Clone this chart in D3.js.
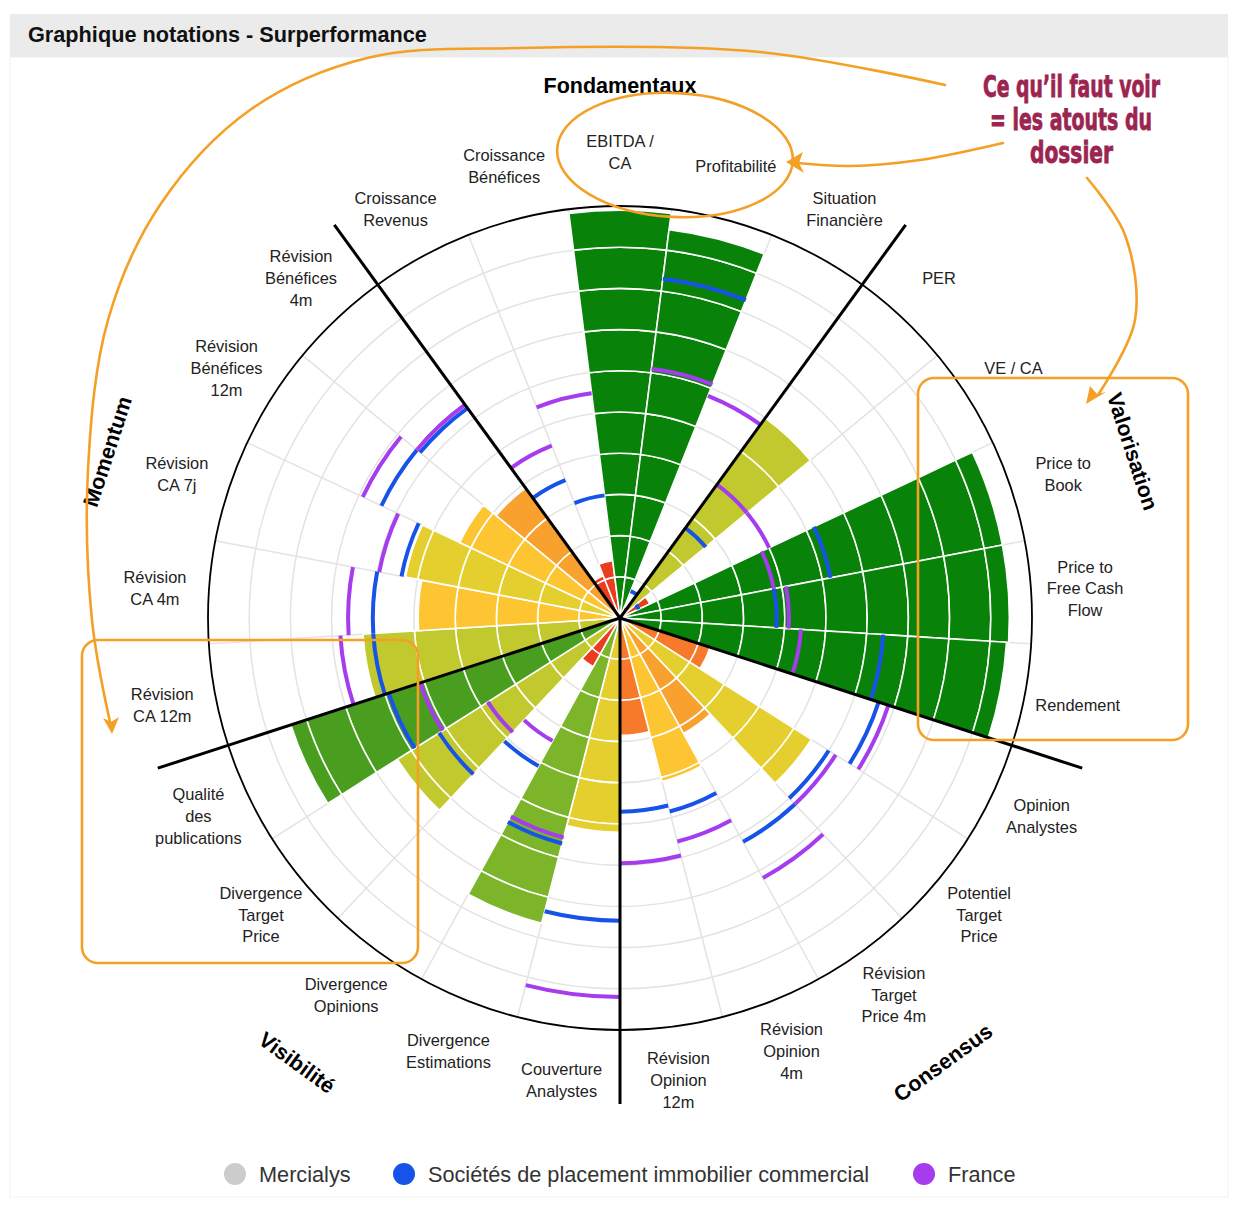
<!DOCTYPE html>
<html>
<head>
<meta charset="utf-8">
<title>Graphique notations - Surperformance</title>
<script src="https://cdnjs.cloudflare.com/ajax/libs/d3/7.8.5/d3.min.js"></script>
<style>
  body { margin: 0; background: #fff; }
  svg { display: block; font-family: "Liberation Sans", Arial, Helvetica, sans-serif; }
</style>
</head>
<body>
<svg id="svg" width="1246" height="1210"></svg>
<script>
// categories, starting with the first criterion of "Fondamentaux" and going clockwise
const categories = [
  "Croissance\nRevenus", "Croissance\nBénéfices", "EBITDA /\nCA", "Profitabilité", "Situation\nFinancière",
  "PER", "VE / CA", "Price to\nBook", "Price to\nFree Cash\nFlow", "Rendement",
  "Opinion\nAnalystes", "Potentiel\nTarget\nPrice", "Révision\nTarget\nPrice 4m", "Révision\nOpinion\n4m", "Révision\nOpinion\n12m",
  "Couverture\nAnalystes", "Divergence\nEstimations", "Divergence\nOpinions", "Divergence\nTarget\nPrice", "Qualité\ndes\npublications",
  "Révision\nCA 12m", "Révision\nCA 4m", "Révision\nCA 7j", "Révision\nBénéfices\n12m", "Révision\nBénéfices\n4m"
];
const groups = ["Fondamentaux", "Valorisation", "Consensus", "Visibilité", "Momentum"];

// notes /10
const mercialys = [1.1, 1.4, 9.9, 9.5, 0.3, 6.0, 0.8, 9.45, 9.45, 9.4,
                   2.3, 5.5, 3.2, 4.1, 2.85, 5.2, 7.65, 1.35, 6.4, 8.4,
                   6.25, 4.9, 5.3, 4.3, 3.9];
const secteur   = [3.6, 3.0, null, 8.3, 0.7, 2.7, 0.5, 5.2, 3.8, 6.4,
                   6.6, 6.0, 6.2, 4.85, 4.7, 7.35, 5.65, 4.1, 5.2, 5.9,
                   6.0, 6.0, 5.4, 6.4, 6.3];
const france    = [4.5, 5.5, null, 6.1, 5.8, 4.0, 4.0, 3.8, 4.1, 4.4,
                   6.85, 6.2, 7.2, 5.6, 5.95, 9.2, 5.5, 3.4, 3.8, 5.1,
                   6.8, 6.6, 5.95, 6.9, 6.4];

const legendNames = ["Mercialys", "Sociétés de placement immobilier commercial", "France"];
const noteSteps = [2, 3, 4, 5, 6, 7, 8, 9];
const noteColors = ["#ea3d1f", "#f7792a", "#f9a12e", "#fcc531", "#e4cf2f", "#c2c92e", "#7cb52a", "#4a9e1f", "#088209"];

const cx = 620, cy = 618, R = 412;
const svg = d3.select("#svg");

const angle = d3.scaleBand().domain(d3.range(categories.length))
  .range([-Math.PI / 5, 2 * Math.PI - Math.PI / 5]).padding(0);
const rad = d3.scaleLinear().domain([0, 10]).range([0, R]);
const color = d3.scaleThreshold().domain(noteSteps).range(noteColors);
const deg = a => a * 180 / Math.PI;

// header
svg.append("rect").attr("x", 10).attr("y", 57).attr("width", 1218).attr("height", 1140)
  .attr("fill", "none").attr("stroke", "#f2f2f2");
svg.append("rect").attr("x", 10).attr("y", 14).attr("width", 1218).attr("height", 43).attr("fill", "#ebebeb");
svg.append("text").attr("x", 28).attr("y", 42).attr("font-size", 21.7).attr("font-weight", "bold")
  .attr("fill", "#111").text("Graphique notations - Surperformance");

const g = svg.append("g").attr("transform", `translate(${cx},${cy})`);

// grid
g.selectAll("circle.grid").data(d3.range(1, 10)).join("circle")
  .attr("r", d => rad(d)).attr("fill", "none").attr("stroke", "#e3e3e3").attr("stroke-width", 1.5);
g.selectAll("line.grid").data(d3.range(categories.length)).join("line")
  .attr("x2", d => R * Math.sin(angle(d))).attr("y2", d => -R * Math.cos(angle(d)))
  .attr("stroke", "#e3e3e3").attr("stroke-width", 1.5);

// bars, cut into unit segments
const arc = d3.arc();
const segs = [];
mercialys.forEach((v, i) => {
  for (let k = 0; k < Math.ceil(v); k++) segs.push({ i, v, k0: k, k1: Math.min(k + 1, v) });
});
g.append("g").selectAll("path").data(segs).join("path")
  .attr("d", d => arc({ innerRadius: rad(d.k0), outerRadius: rad(d.k1),
    startAngle: angle(d.i), endAngle: angle(d.i) + angle.bandwidth() }))
  .attr("fill", d => color(d.v)).attr("stroke", "#fff").attr("stroke-width", 1.6);

// comparison markers
function marks(values, fill) {
  g.append("g").selectAll("path").data(values.map((v, i) => ({ v, i })).filter(d => d.v != null)).join("path")
    .attr("d", d => arc({ innerRadius: rad(d.v) - 2, outerRadius: rad(d.v) + 2,
      startAngle: angle(d.i), endAngle: angle(d.i) + angle.bandwidth() }))
    .attr("fill", fill);
}
marks(secteur, "#1753e8");
marks(france, "#a53cee");

// section lines and outer circle
g.selectAll("line.sec").data(groups).join("line")
  .attr("x2", (d, j) => 486 * Math.sin(angle(j * 5)))
  .attr("y2", (d, j) => -486 * Math.cos(angle(j * 5)))
  .attr("stroke", "#000").attr("stroke-width", 3);
g.append("circle").attr("r", R).attr("fill", "none").attr("stroke", "#000").attr("stroke-width", 1.8);

// category labels
const lab = g.append("g").attr("font-size", 16.4).attr("fill", "#222").attr("text-anchor", "middle");
categories.forEach((c, i) => {
  const a = angle(i) + angle.bandwidth() / 2;
  const x = 466 * Math.sin(a), y = -466 * Math.cos(a);
  const lines = c.split("\n");
  const t = lab.append("text").attr("x", x).attr("y", y - (lines.length - 1) * 10.9 + 5.6);
  lines.forEach((l, n) => t.append("tspan").attr("x", x).attr("dy", n ? 21.8 : 0).text(l));
});

// group labels
groups.forEach((name, j) => {
  const a = angle(j * 5) + angle.bandwidth() * 2.5;
  const r = 542 - 9 * Math.cos(a);
  const x = r * Math.sin(a), y = -r * Math.cos(a);
  let rot = deg(a);
  if (rot > 90 && rot < 270) rot -= 180;
  if (rot >= 270) rot -= 360;
  g.append("text").attr("transform", `translate(${x},${y}) rotate(${rot})`)
    .attr("text-anchor", "middle").attr("dy", "0.36em").attr("font-size", 21.5).attr("font-weight", "bold")
    .attr("fill", "#000").text(name);
});

// legend
const legendColors = ["#cccccc", "#1753e8", "#a53cee"];
const legendX = [235, 404, 924];
legendNames.forEach((n, j) => {
  svg.append("circle").attr("cx", legendX[j]).attr("cy", 1174).attr("r", 11).attr("fill", legendColors[j]);
  svg.append("text").attr("x", legendX[j] + 24).attr("y", 1182).attr("font-size", 21.7).attr("fill", "#333").text(n);
});

// hand-drawn annotations
const orange = "#f4a026";
const ann = svg.append("g").attr("fill", "none").attr("stroke", orange).attr("stroke-width", 2.6)
  .attr("stroke-linecap", "round");
const curve = d3.line().curve(d3.curveCatmullRom);
ann.append("ellipse").attr("cx", 675).attr("cy", 155).attr("rx", 118).attr("ry", 62)
  .attr("transform", "rotate(3 675 155)");
ann.append("path").attr("d", curve([[1003, 143], [920, 160], [850, 166], [797, 163]]));
ann.append("path").attr("d", curve([[945, 85], [760, 52], [520, 48], [367, 58], [250, 110], [160, 205], [108, 320], [88, 470], [92, 620], [110, 722]]));
ann.append("path").attr("d", curve([[1087, 178], [1125, 235], [1135, 320], [1098, 395]]));
ann.append("rect").attr("x", 918).attr("y", 378).attr("width", 270).attr("height", 362).attr("rx", 16);
ann.append("rect").attr("x", 82).attr("y", 640).attr("width", 336).attr("height", 323).attr("rx", 16);
const heads = svg.append("g").attr("fill", orange);
heads.append("path").attr("d", "M786,162 L803,152 L799,163 L804,173 Z");
heads.append("path").attr("d", "M1086,404 L1090,386 L1097,394 L1106,392 Z");
heads.append("path").attr("d", "M112,734 L103,718 L111,722 L119,717 Z");

const note = svg.append("g").attr("fill", "#9b2450").attr("stroke", "#9b2450").attr("stroke-width", 0.8)
  .attr("font-weight", "bold").attr("font-size", 31)
  .attr("font-family", "'Liberation Sans Narrow', 'DejaVu Sans Condensed', sans-serif");
[["Ce qu’il faut voir", 983, 97, 177], ["= les atouts du", 990, 130, 162], ["dossier", 1030, 163, 83]]
  .forEach(([t, x, y, w]) => note.append("text").attr("x", x).attr("y", y)
    .attr("textLength", w).attr("lengthAdjust", "spacingAndGlyphs").text(t));
</script>
</body>
</html>
